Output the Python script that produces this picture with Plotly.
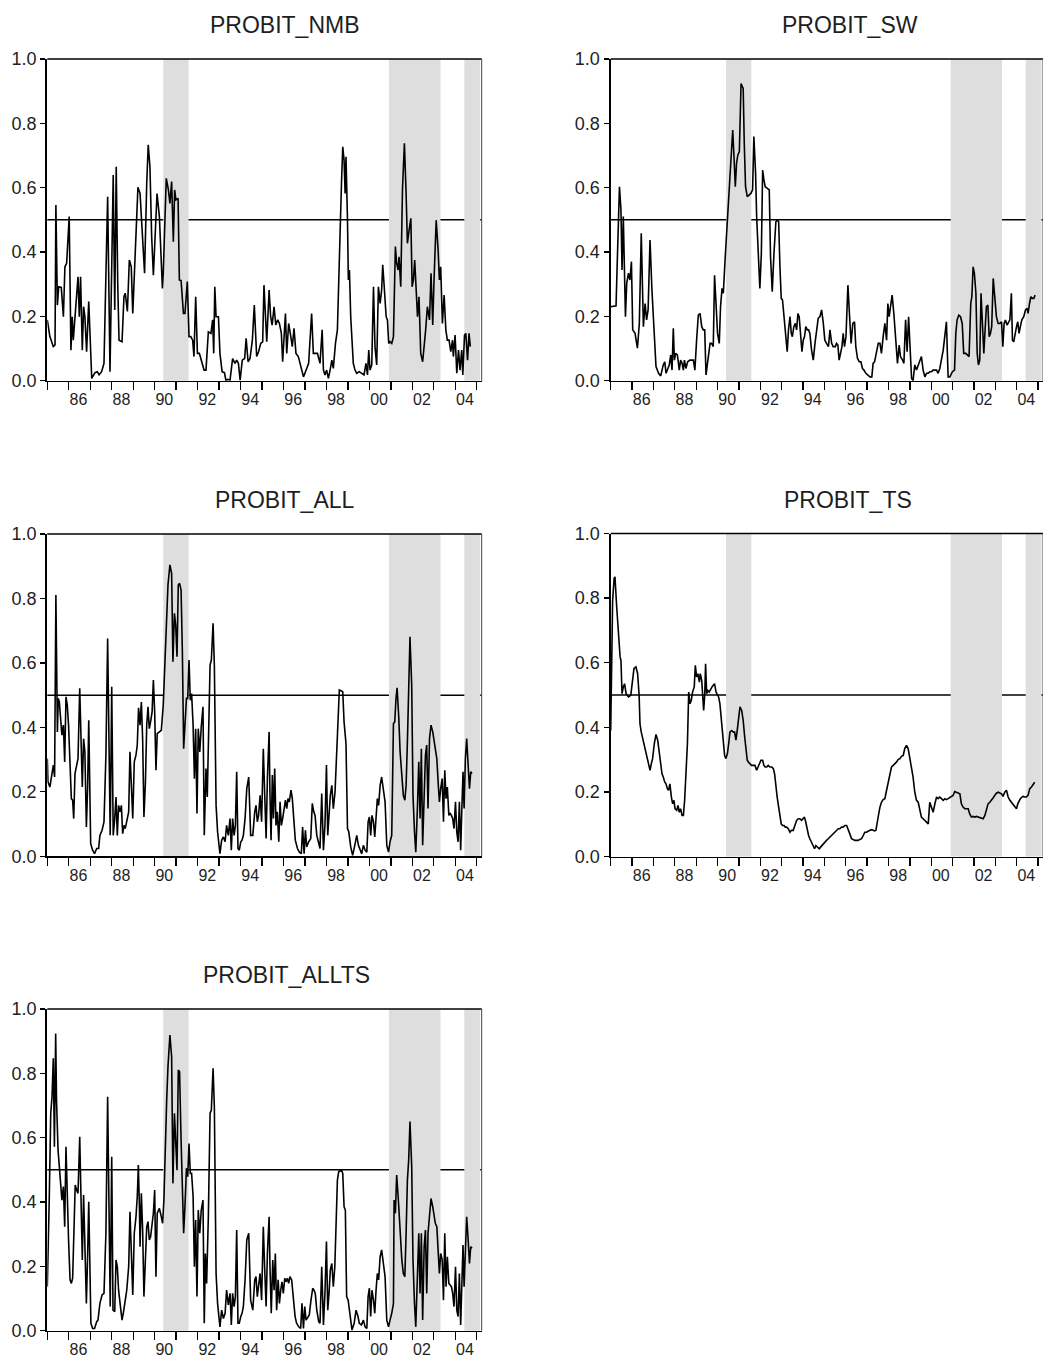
import plotly.graph_objects as go

# ---------------- data (decimal year, probability) ----------------
nmb_dates = [
    1985.00, 1985.12, 1985.28, 1985.36, 1985.40, 1985.47, 1985.53, 1985.65, 1985.75, 1985.82,
    1985.90, 1986.02, 1986.10, 1986.16, 1986.21, 1986.34, 1986.43, 1986.49, 1986.55, 1986.63,
    1986.69, 1986.75, 1986.83, 1986.93, 1986.99, 1987.07, 1987.22, 1987.33, 1987.41, 1987.53,
    1987.64, 1987.81, 1987.92, 1988.01, 1988.07, 1988.14, 1988.21, 1988.28, 1988.34, 1988.48,
    1988.57, 1988.63, 1988.73, 1988.82, 1988.91, 1988.98, 1989.13, 1989.22, 1989.32, 1989.43,
    1989.53, 1989.63, 1989.70, 1989.78, 1989.86, 1989.94, 1990.03, 1990.11, 1990.22, 1990.31,
    1990.36, 1990.40, 1990.50, 1990.54, 1990.64, 1990.71, 1990.79, 1990.87, 1990.93, 1990.99,
    1991.09, 1991.15, 1991.23, 1991.34, 1991.41, 1991.52, 1991.60, 1991.68, 1991.77, 1991.83,
    1991.91, 1991.99, 1992.08, 1992.19, 1992.30, 1992.39, 1992.50, 1992.62, 1992.70, 1992.75,
    1992.80, 1992.86, 1992.97, 1993.04, 1993.14, 1993.25, 1993.32, 1993.40, 1993.51, 1993.63,
    1993.74, 1993.82, 1993.90, 1993.98, 1994.08, 1994.19, 1994.26, 1994.35, 1994.44, 1994.55,
    1994.64, 1994.75, 1994.84, 1994.94, 1995.03, 1995.09,
    1995.22, 1995.33, 1995.40, 1995.47, 1995.56, 1995.64, 1995.73, 1995.81, 1995.90, 1995.96,
    1996.02, 1996.09, 1996.15, 1996.24, 1996.34, 1996.41, 1996.49, 1996.58, 1996.69, 1996.77,
    1996.85, 1996.93, 1997.00, 1997.08, 1997.17, 1997.24, 1997.31, 1997.39, 1997.47, 1997.58,
    1997.70, 1997.80, 1997.86, 1997.93, 1998.01, 1998.09, 1998.17, 1998.25, 1998.32, 1998.42,
    1998.51, 1998.60, 1998.70, 1998.76, 1998.82, 1998.87, 1998.91, 1998.98, 1999.02, 1999.07,
    1999.13, 1999.25, 1999.33, 1999.41, 1999.53, 1999.64, 1999.75, 1999.84, 1999.91, 1999.97,
    2000.03, 2000.11, 2000.19, 2000.26, 2000.34, 2000.42, 2000.50, 2000.57, 2000.62, 2000.68,
    2000.78, 2000.84, 2000.90, 2000.96, 2001.04, 2001.12, 2001.21, 2001.27, 2001.34, 2001.38,
    2001.46, 2001.54, 2001.63, 2001.71, 2001.77, 2001.85, 2001.93, 2001.99, 2002.05, 2002.11,
    2002.17, 2002.24, 2002.31, 2002.39, 2002.48, 2002.55, 2002.62, 2002.70, 2002.80, 2002.87,
    2002.95, 2003.01, 2003.11, 2003.20, 2003.26, 2003.32, 2003.40, 2003.48, 2003.56, 2003.63,
    2003.71, 2003.79, 2003.87, 2003.91, 2003.99, 2004.07, 2004.15, 2004.22, 2004.30, 2004.35,
    2004.43, 2004.49, 2004.57, 2004.64, 2004.70,
]
nmb_prob = [
    0.189, 0.137, 0.106, 0.111, 0.546, 0.235, 0.292, 0.290, 0.199, 0.354,
    0.365, 0.510, 0.095, 0.199, 0.126, 0.240, 0.323, 0.199, 0.323, 0.095,
    0.230, 0.199, 0.090, 0.246, 0.116, 0.007, 0.025, 0.028, 0.018, 0.028,
    0.054, 0.572, 0.028, 0.437, 0.639, 0.220, 0.665, 0.303, 0.126, 0.121,
    0.261, 0.272, 0.215, 0.375, 0.354, 0.209, 0.427, 0.601, 0.582, 0.437,
    0.334, 0.613, 0.733, 0.665, 0.448, 0.328, 0.489, 0.582, 0.510, 0.385,
    0.287, 0.334, 0.572, 0.629, 0.593, 0.551, 0.619, 0.432, 0.593, 0.562,
    0.567, 0.313, 0.311, 0.209, 0.209, 0.308, 0.137, 0.137, 0.126, 0.075,
    0.261, 0.085, 0.085, 0.054, 0.033, 0.033, 0.152, 0.147, 0.189, 0.085,
    0.292, 0.199, 0.199, 0.085, 0.028, 0.025, 0.000, 0.004, 0.002, 0.069,
    0.054, 0.064, 0.054, 0.002, 0.064, 0.069, 0.132, 0.059, 0.069, 0.126,
    0.235, 0.075, 0.090, 0.116, 0.121, 0.297,
    0.121, 0.282, 0.199, 0.173, 0.230, 0.173, 0.189, 0.178, 0.147, 0.059,
    0.126, 0.209, 0.085, 0.178, 0.137, 0.106, 0.163, 0.085, 0.075, 0.049,
    0.033, 0.012, 0.028, 0.038, 0.054, 0.126, 0.209, 0.085, 0.085, 0.085,
    0.054, 0.158, 0.033, 0.018, 0.033, 0.007, 0.033, 0.064, 0.038, 0.116,
    0.158, 0.406, 0.613, 0.727, 0.686, 0.582, 0.696, 0.499, 0.313, 0.344,
    0.199, 0.054, 0.033, 0.023, 0.028, 0.023, 0.018, 0.054, 0.018, 0.095,
    0.033, 0.049, 0.292, 0.106, 0.049, 0.292, 0.240, 0.282, 0.360, 0.303,
    0.199, 0.189, 0.116, 0.121, 0.116, 0.137, 0.417, 0.365, 0.344, 0.385,
    0.292, 0.593, 0.738, 0.582, 0.427, 0.468, 0.505, 0.292, 0.313, 0.375,
    0.303, 0.199, 0.261, 0.085, 0.059, 0.101, 0.158, 0.230, 0.189, 0.334,
    0.173, 0.313, 0.499, 0.406, 0.313, 0.354, 0.178, 0.266, 0.158, 0.126,
    0.126, 0.090, 0.126, 0.075, 0.142, 0.023, 0.095, 0.033, 0.095, 0.018,
    0.142, 0.147, 0.064, 0.147, 0.106,
]

sw_dates = [
    1985.00, 1985.25, 1985.31, 1985.41, 1985.48, 1985.53, 1985.59, 1985.64, 1985.69, 1985.75,
    1985.83, 1985.90, 1985.97, 1986.03, 1986.14, 1986.25, 1986.34, 1986.43, 1986.53, 1986.61,
    1986.68, 1986.75, 1986.84, 1986.93, 1987.03, 1987.12, 1987.24, 1987.34, 1987.46, 1987.53,
    1987.59, 1987.65, 1987.74, 1987.81, 1987.87, 1987.93, 1987.98, 1988.04, 1988.12, 1988.21,
    1988.27, 1988.34, 1988.40, 1988.45, 1988.52, 1988.60, 1988.71, 1988.87, 1988.94, 1989.02,
    1989.10, 1989.18, 1989.26, 1989.33, 1989.40, 1989.46, 1989.54, 1989.65, 1989.72, 1989.80,
    1989.86, 1989.93, 1990.00, 1990.08, 1990.14, 1990.21, 1990.27, 1990.36, 1990.46, 1990.58,
    1990.71, 1990.77, 1990.83, 1990.89, 1990.95, 1991.02, 1991.10, 1991.16, 1991.20, 1991.25,
    1991.31, 1991.39, 1991.47, 1991.56, 1991.64, 1991.70, 1991.78, 1991.83, 1991.92, 1991.98,
    1992.05, 1992.11, 1992.17, 1992.23, 1992.33, 1992.42, 1992.48, 1992.56, 1992.64, 1992.73,
    1992.79, 1992.86, 1992.92, 1992.98, 1993.04, 1993.12, 1993.20, 1993.26, 1993.32, 1993.39,
    1993.45, 1993.50, 1993.57, 1993.64, 1993.70, 1993.76, 1993.82, 1993.89, 1993.95, 1994.01,
    1994.07, 1994.13, 1994.20, 1994.26, 1994.32, 1994.40, 1994.48, 1994.56, 1994.63, 1994.71,
    1994.79, 1994.87, 1994.95, 1995.02, 1995.10, 1995.19, 1995.26, 1995.34, 1995.41, 1995.51,
    1995.57, 1995.63, 1995.69, 1995.76, 1995.82, 1995.88, 1995.94, 1996.01, 1996.10, 1996.18,
    1996.25, 1996.33, 1996.41, 1996.47, 1996.55, 1996.63, 1996.71, 1996.78, 1996.85, 1996.94,
    1997.03, 1997.13, 1997.22, 1997.28, 1997.35, 1997.44, 1997.52, 1997.60, 1997.67, 1997.75,
    1997.83, 1997.91, 1997.97, 1998.03, 1998.09, 1998.17, 1998.25, 1998.34, 1998.42, 1998.50,
    1998.56, 1998.66, 1998.72, 1998.80, 1998.87, 1998.94, 1999.00, 1999.08, 1999.15, 1999.23,
    1999.31, 1999.39, 1999.47, 1999.54, 1999.62, 1999.70, 1999.78, 1999.86, 1999.93, 2000.01,
    2000.09, 2000.17, 2000.25, 2000.32, 2000.40, 2000.56, 2000.64, 2000.71, 2000.79, 2000.87,
    2000.99, 2001.09, 2001.15, 2001.21, 2001.29, 2001.37, 2001.45, 2001.52, 2001.62, 2001.71,
    2001.77, 2001.85, 2001.90, 2001.96, 2002.02, 2002.09, 2002.15, 2002.21, 2002.27, 2002.33,
    2002.40, 2002.46, 2002.52, 2002.58, 2002.65, 2002.71, 2002.77, 2002.83, 2002.90, 2002.97,
    2003.05, 2003.13, 2003.21, 2003.29, 2003.35, 2003.41, 2003.47, 2003.55, 2003.61, 2003.68,
    2003.75, 2003.80, 2003.86, 2003.92, 2003.99, 2004.05, 2004.11, 2004.17, 2004.24, 2004.33,
    2004.41, 2004.49, 2004.53, 2004.60, 2004.66, 2004.73, 2004.80, 2004.86,
]
sw_prob = [
    0.230, 0.233, 0.375, 0.603, 0.531, 0.344, 0.510, 0.344, 0.199, 0.303,
    0.334, 0.313, 0.370, 0.158, 0.147, 0.101, 0.178, 0.458, 0.168, 0.240,
    0.189, 0.220, 0.437, 0.282, 0.147, 0.044, 0.023, 0.015, 0.049, 0.059,
    0.023, 0.033, 0.049, 0.080, 0.033, 0.163, 0.064, 0.085, 0.080, 0.033,
    0.064, 0.054, 0.033, 0.064, 0.038, 0.059, 0.064, 0.064, 0.033, 0.126,
    0.204, 0.209, 0.168, 0.158, 0.158, 0.018, 0.064, 0.116, 0.116, 0.106,
    0.328, 0.209, 0.147, 0.116, 0.230, 0.287, 0.272, 0.385, 0.499, 0.624,
    0.779, 0.696, 0.603, 0.676, 0.702, 0.712, 0.924, 0.914, 0.909, 0.738,
    0.603, 0.572, 0.577, 0.582, 0.593, 0.759, 0.645, 0.510, 0.375, 0.287,
    0.396, 0.655, 0.624, 0.603, 0.598, 0.593, 0.385, 0.277, 0.396, 0.494,
    0.499, 0.494, 0.354, 0.256, 0.251, 0.189, 0.147, 0.090, 0.158, 0.199,
    0.147, 0.137, 0.168, 0.178, 0.158, 0.209, 0.199, 0.126, 0.090, 0.126,
    0.137, 0.168, 0.158, 0.158, 0.147, 0.095, 0.064, 0.116, 0.147, 0.194,
    0.199, 0.220, 0.178, 0.126, 0.116, 0.106, 0.158, 0.116, 0.106, 0.106,
    0.116, 0.111, 0.064, 0.085, 0.106, 0.147, 0.106, 0.137, 0.297, 0.199,
    0.116, 0.178, 0.183, 0.106, 0.069, 0.059, 0.059, 0.038, 0.033, 0.023,
    0.018, 0.012, 0.012, 0.054, 0.059, 0.090, 0.116, 0.116, 0.085, 0.137,
    0.178, 0.126, 0.240, 0.199, 0.230, 0.266, 0.209, 0.121, 0.054, 0.111,
    0.075, 0.064, 0.054, 0.189, 0.090, 0.199, 0.090, 0.007, 0.000, 0.049,
    0.033, 0.049, 0.064, 0.075, 0.033, 0.012, 0.023, 0.023, 0.028, 0.028,
    0.033, 0.033, 0.033, 0.023, 0.038, 0.095, 0.137, 0.183, 0.012, 0.012,
    0.028, 0.033, 0.147, 0.189, 0.204, 0.199, 0.178, 0.085, 0.085, 0.080,
    0.075, 0.240, 0.261, 0.354, 0.334, 0.272, 0.085, 0.049, 0.064, 0.272,
    0.168, 0.085, 0.158, 0.230, 0.235, 0.137, 0.147, 0.168, 0.318, 0.272,
    0.199, 0.178, 0.178, 0.183, 0.106, 0.178, 0.189, 0.173, 0.183, 0.189,
    0.272, 0.126, 0.121, 0.147, 0.168, 0.183, 0.147, 0.168, 0.189, 0.199,
    0.220, 0.225, 0.209, 0.240, 0.261, 0.256, 0.256, 0.266,
]

all_dates = [
    1985.00, 1985.03, 1985.12, 1985.22, 1985.28, 1985.34, 1985.40, 1985.47, 1985.51, 1985.56,
    1985.62, 1985.68, 1985.75, 1985.81, 1985.87, 1985.93, 1985.99, 1986.06, 1986.12, 1986.18,
    1986.23, 1986.29, 1986.37, 1986.43, 1986.51, 1986.57, 1986.63, 1986.69, 1986.75, 1986.82,
    1986.88, 1986.93, 1986.99, 1987.02, 1987.11, 1987.20, 1987.30, 1987.39, 1987.45, 1987.55,
    1987.64, 1987.73, 1987.81, 1987.87, 1987.93, 1988.00, 1988.07, 1988.14, 1988.20, 1988.26,
    1988.32, 1988.39, 1988.45, 1988.51, 1988.57, 1988.63, 1988.70, 1988.79, 1988.85, 1988.91,
    1988.98, 1989.05, 1989.13, 1989.19, 1989.25, 1989.32, 1989.38, 1989.44, 1989.50, 1989.57,
    1989.63, 1989.69, 1989.75, 1989.81, 1989.88, 1989.94, 1990.00, 1990.06, 1990.12, 1990.22,
    1990.31, 1990.40, 1990.50, 1990.56, 1990.62, 1990.71, 1990.79, 1990.85, 1990.92, 1990.98,
    1991.04, 1991.10, 1991.16, 1991.23, 1991.29, 1991.35, 1991.41, 1991.48, 1991.54, 1991.60,
    1991.66, 1991.72, 1991.79, 1991.85, 1991.91, 1991.97, 1992.03, 1992.10, 1992.17, 1992.25,
    1992.31, 1992.39, 1992.45, 1992.52, 1992.58, 1992.64, 1992.72, 1992.78, 1992.86, 1992.93,
    1993.04, 1993.12, 1993.20, 1993.28, 1993.35, 1993.43, 1993.51, 1993.57, 1993.63, 1993.70,
    1993.76, 1993.82, 1993.88, 1993.94, 1994.01, 1994.07, 1994.13, 1994.21, 1994.29, 1994.38,
    1994.47, 1994.57, 1994.66, 1994.72, 1994.78, 1994.84, 1994.91, 1994.98, 1995.06, 1995.12,
    1995.19, 1995.25, 1995.33, 1995.37, 1995.42, 1995.48, 1995.53, 1995.59, 1995.65, 1995.71,
    1995.78, 1995.84, 1995.90, 1995.96, 1996.02, 1996.09, 1996.15, 1996.21, 1996.27, 1996.35,
    1996.41, 1996.49, 1996.55, 1996.65, 1996.74, 1996.83, 1996.89, 1996.96, 1997.02, 1997.08,
    1997.17, 1997.27, 1997.34, 1997.41, 1997.47, 1997.55, 1997.64, 1997.70, 1997.78, 1997.86,
    1997.93, 1998.00, 1998.06, 1998.12, 1998.18, 1998.25, 1998.32, 1998.40, 1998.48, 1998.54,
    1998.60, 1998.70, 1998.76, 1998.82, 1998.87, 1998.91, 1998.98, 1999.04, 1999.13, 1999.22,
    1999.32, 1999.41, 1999.49, 1999.57, 1999.64, 1999.72, 1999.80, 1999.88, 1999.94, 2000.00,
    2000.06, 2000.12, 2000.19, 2000.25, 2000.31, 2000.37, 2000.43, 2000.50, 2000.57, 2000.65,
    2000.73, 2000.81, 2000.89, 2000.96, 2001.04, 2001.12, 2001.18, 2001.24, 2001.29, 2001.37,
    2001.43, 2001.51, 2001.58, 2001.65, 2001.71, 2001.77, 2001.83, 2001.89, 2001.97, 2002.03,
    2002.10, 2002.16, 2002.24, 2002.30, 2002.36, 2002.42, 2002.48, 2002.55, 2002.61, 2002.67,
    2002.73, 2002.80, 2002.87, 2002.95, 2003.01, 2003.07, 2003.14, 2003.21, 2003.26, 2003.32,
    2003.39, 2003.45, 2003.51, 2003.57, 2003.63, 2003.70, 2003.76, 2003.82, 2003.88, 2003.94,
    2004.01, 2004.07, 2004.13, 2004.19, 2004.25, 2004.32, 2004.36, 2004.41, 2004.47, 2004.53,
    2004.60, 2004.66, 2004.72, 2004.78,
]
all_prob = [
    0.303, 0.231, 0.215, 0.257, 0.283, 0.246, 0.811, 0.386, 0.490, 0.479,
    0.417, 0.376, 0.407, 0.293, 0.495, 0.469, 0.407, 0.241, 0.179, 0.174,
    0.117, 0.257, 0.283, 0.303, 0.521, 0.345, 0.215, 0.365, 0.324, 0.091,
    0.220, 0.422, 0.096, 0.039, 0.019, 0.008, 0.024, 0.024, 0.065, 0.081,
    0.107, 0.314, 0.676, 0.303, 0.065, 0.526, 0.065, 0.117, 0.184, 0.065,
    0.158, 0.138, 0.158, 0.070, 0.096, 0.086, 0.107, 0.138, 0.324, 0.210,
    0.117, 0.293, 0.314, 0.345, 0.461, 0.407, 0.479, 0.365, 0.122, 0.231,
    0.407, 0.464, 0.396, 0.417, 0.448, 0.547, 0.448, 0.267, 0.381, 0.386,
    0.391, 0.469, 0.666, 0.790, 0.842, 0.904, 0.878, 0.604, 0.754, 0.717,
    0.619, 0.842, 0.847, 0.826, 0.635, 0.334, 0.407, 0.490, 0.490, 0.609,
    0.484, 0.505, 0.407, 0.241, 0.396, 0.133, 0.396, 0.324, 0.402, 0.464,
    0.065, 0.272, 0.184, 0.407, 0.593, 0.609, 0.723, 0.593, 0.158, 0.076,
    0.008, 0.050, 0.060, 0.045, 0.096, 0.065, 0.117, 0.019, 0.117, 0.065,
    0.096, 0.262, 0.024, 0.019, 0.045, 0.050, 0.065, 0.117, 0.210, 0.246,
    0.065, 0.065, 0.138, 0.158, 0.107, 0.127, 0.189, 0.107, 0.334, 0.200,
    0.055, 0.241, 0.386, 0.189, 0.050, 0.252, 0.117, 0.272, 0.096, 0.138,
    0.045, 0.169, 0.096, 0.117, 0.138, 0.174, 0.148, 0.179, 0.169, 0.205,
    0.179, 0.117, 0.050, 0.024, 0.013, 0.008, 0.091, 0.008, 0.081, 0.029,
    0.045, 0.055, 0.164, 0.138, 0.127, 0.065, 0.034, 0.024, 0.195, 0.019,
    0.096, 0.283, 0.065, 0.127, 0.189, 0.220, 0.148, 0.200, 0.324, 0.459,
    0.516, 0.513, 0.510, 0.417, 0.365, 0.350, 0.086, 0.076, 0.029, 0.003,
    0.034, 0.065, 0.034, 0.019, 0.008, 0.034, 0.019, 0.013, 0.107, 0.122,
    0.065, 0.127, 0.107, 0.060, 0.127, 0.179, 0.158, 0.220, 0.246, 0.210,
    0.169, 0.034, 0.013, 0.045, 0.065, 0.412, 0.417, 0.490, 0.523, 0.428,
    0.324, 0.252, 0.189, 0.174, 0.220, 0.355, 0.541, 0.681, 0.531, 0.189,
    0.076, 0.013, 0.158, 0.293, 0.117, 0.334, 0.034, 0.220, 0.314, 0.345,
    0.148, 0.365, 0.407, 0.386, 0.360, 0.345, 0.303, 0.220, 0.169, 0.210,
    0.241, 0.107, 0.267, 0.179, 0.215, 0.127, 0.133, 0.127, 0.117, 0.086,
    0.169, 0.076, 0.045, 0.169, 0.019, 0.179, 0.262, 0.148, 0.303, 0.365,
    0.283, 0.210, 0.262, 0.257,
]

ts_dates = [
    1985.00, 1985.05, 1985.09, 1985.16, 1985.20, 1985.28, 1985.36, 1985.44, 1985.48, 1985.53,
    1985.59, 1985.65, 1985.72, 1985.83, 1985.94, 1986.03, 1986.09, 1986.18, 1986.26, 1986.33,
    1986.37, 1986.43, 1986.51, 1986.61, 1986.68, 1986.78, 1986.84, 1986.90, 1986.96, 1987.04,
    1987.12, 1987.20, 1987.28, 1987.34, 1987.40, 1987.46, 1987.53, 1987.59, 1987.65, 1987.71,
    1987.77, 1987.84, 1987.90, 1987.96, 1988.01, 1988.09, 1988.15, 1988.21, 1988.27, 1988.34,
    1988.40, 1988.46, 1988.52, 1988.59, 1988.65, 1988.71, 1988.77, 1988.83, 1988.91, 1988.96,
    1989.02, 1989.08, 1989.15, 1989.19, 1989.26, 1989.30, 1989.35, 1989.40, 1989.44, 1989.49,
    1989.55, 1989.61, 1989.68, 1989.74, 1989.80, 1989.86, 1989.93, 1989.99, 1990.05, 1990.11,
    1990.19, 1990.27, 1990.33, 1990.39, 1990.46, 1990.52, 1990.58, 1990.66, 1990.74, 1990.80,
    1990.86, 1990.92, 1990.99, 1991.05, 1991.13, 1991.20, 1991.27, 1991.33, 1991.39, 1991.45,
    1991.52, 1991.59, 1991.67, 1991.75, 1991.83, 1991.89, 1991.95, 1992.03, 1992.11, 1992.17,
    1992.23, 1992.30, 1992.37, 1992.45, 1992.54, 1992.61, 1992.67, 1992.73, 1992.79, 1992.86,
    1992.92, 1992.98, 1993.04, 1993.11, 1993.17, 1993.23, 1993.31, 1993.39, 1993.46, 1993.54,
    1993.62, 1993.70, 1993.78, 1993.85, 1993.93, 1994.01, 1994.07, 1994.13, 1994.20, 1994.26,
    1994.32, 1994.40, 1994.48, 1994.54, 1994.60, 1994.66, 1994.76, 1994.82, 1994.88, 1994.95,
    1995.02, 1995.10, 1995.18, 1995.26, 1995.34, 1995.41, 1995.49, 1995.57, 1995.65, 1995.72,
    1995.80, 1995.88, 1995.96, 1996.04, 1996.11, 1996.19, 1996.27, 1996.35, 1996.43, 1996.50,
    1996.58, 1996.66, 1996.74, 1996.82, 1996.89, 1996.97, 1997.05, 1997.13, 1997.21, 1997.28,
    1997.36, 1997.41, 1997.47, 1997.53, 1997.60, 1997.67, 1997.75, 1997.83, 1997.91, 1997.99,
    1998.06, 1998.14, 1998.22, 1998.30, 1998.37, 1998.45, 1998.53, 1998.61, 1998.69, 1998.76,
    1998.84, 1998.92, 1999.00, 1999.08, 1999.15, 1999.23, 1999.31, 1999.39, 1999.47, 1999.54,
    1999.62, 1999.70, 1999.78, 1999.86, 1999.93, 2000.01, 2000.09, 2000.17, 2000.25, 2000.32,
    2000.40, 2000.48, 2000.56, 2000.64, 2000.71, 2000.79, 2000.87, 2000.95, 2001.02, 2001.10,
    2001.18, 2001.26, 2001.34, 2001.41, 2001.49, 2001.57, 2001.65, 2001.73, 2001.80, 2001.88,
    2001.96, 2002.04, 2002.12, 2002.19, 2002.27, 2002.35, 2002.43, 2002.51, 2002.58, 2002.66,
    2002.74, 2002.82, 2002.90, 2002.97, 2003.05, 2003.13, 2003.21, 2003.29, 2003.36, 2003.44,
    2003.52, 2003.60, 2003.68, 2003.75, 2003.83, 2003.91, 2003.99, 2004.05, 2004.11, 2004.17,
    2004.24, 2004.30, 2004.38, 2004.45, 2004.53, 2004.61, 2004.69, 2004.77, 2004.84,
]
ts_prob = [
    0.390, 0.649, 0.793, 0.861, 0.866, 0.773, 0.690, 0.618, 0.607, 0.504,
    0.525, 0.535, 0.504, 0.494, 0.499, 0.556, 0.582, 0.587, 0.566, 0.499,
    0.411, 0.385, 0.360, 0.329, 0.313, 0.277, 0.267, 0.287, 0.303, 0.349,
    0.378, 0.360, 0.318, 0.277, 0.256, 0.246, 0.230, 0.225, 0.210, 0.205,
    0.225, 0.184, 0.163, 0.174, 0.148, 0.143, 0.158, 0.137, 0.148, 0.127,
    0.127, 0.174, 0.267, 0.349, 0.509, 0.473, 0.483, 0.509, 0.525, 0.592,
    0.556, 0.566, 0.540, 0.566, 0.545, 0.514, 0.452, 0.499, 0.597, 0.504,
    0.514, 0.509, 0.520, 0.525, 0.530, 0.535, 0.509, 0.499, 0.494, 0.473,
    0.411, 0.349, 0.313, 0.303, 0.318, 0.349, 0.385, 0.390, 0.385, 0.385,
    0.360, 0.390, 0.442, 0.463, 0.452, 0.421, 0.370, 0.329, 0.298, 0.292,
    0.287, 0.282, 0.282, 0.282, 0.267, 0.277, 0.287, 0.298, 0.298, 0.282,
    0.277, 0.277, 0.282, 0.277, 0.277, 0.272, 0.256, 0.215, 0.184, 0.153,
    0.122, 0.101, 0.096, 0.096, 0.091, 0.091, 0.086, 0.075, 0.081, 0.081,
    0.096, 0.112, 0.117, 0.117, 0.112, 0.117, 0.122, 0.106, 0.081, 0.065,
    0.055, 0.044, 0.029, 0.024, 0.034, 0.029, 0.024, 0.029, 0.034, 0.039,
    0.044, 0.050, 0.055, 0.060, 0.065, 0.072, 0.075, 0.081, 0.086, 0.086,
    0.091, 0.091, 0.096, 0.096, 0.086, 0.070, 0.055, 0.052, 0.050, 0.050,
    0.050, 0.053, 0.055, 0.065, 0.075, 0.075, 0.079, 0.081, 0.083, 0.081,
    0.079, 0.081, 0.112, 0.127, 0.153, 0.168, 0.176, 0.179, 0.205, 0.230,
    0.256, 0.277, 0.282, 0.287, 0.292, 0.300, 0.303, 0.310, 0.313, 0.334,
    0.344, 0.334, 0.303, 0.272, 0.246, 0.199, 0.174, 0.168, 0.148, 0.122,
    0.117, 0.112, 0.106, 0.101, 0.168, 0.148, 0.137, 0.163, 0.184, 0.179,
    0.184, 0.179, 0.174, 0.179, 0.176, 0.179, 0.182, 0.184, 0.189, 0.201,
    0.199, 0.196, 0.194, 0.163, 0.153, 0.148, 0.148, 0.148, 0.132, 0.122,
    0.124, 0.122, 0.124, 0.122, 0.120, 0.117, 0.117, 0.127, 0.143, 0.163,
    0.168, 0.174, 0.182, 0.189, 0.196, 0.199, 0.196, 0.194, 0.186, 0.199,
    0.205, 0.184, 0.174, 0.168, 0.163, 0.158, 0.148, 0.163, 0.174, 0.179,
    0.184, 0.186, 0.184, 0.184, 0.189, 0.210, 0.215, 0.223, 0.230,
]

allts_dates = [
    1985.00, 1985.03, 1985.09, 1985.16, 1985.22, 1985.28, 1985.33, 1985.39, 1985.43, 1985.50,
    1985.56, 1985.62, 1985.68, 1985.75, 1985.81, 1985.87, 1985.93, 1985.99, 1986.06, 1986.12,
    1986.18, 1986.24, 1986.30, 1986.37, 1986.43, 1986.51, 1986.57, 1986.63, 1986.69, 1986.75,
    1986.82, 1986.88, 1986.93, 1986.99, 1987.03, 1987.11, 1987.20, 1987.30, 1987.36, 1987.45,
    1987.55, 1987.64, 1987.73, 1987.81, 1987.87, 1987.93, 1988.00, 1988.06, 1988.14, 1988.20,
    1988.26, 1988.32, 1988.39, 1988.48, 1988.54, 1988.63, 1988.70, 1988.79, 1988.85, 1988.91,
    1988.98, 1989.05, 1989.13, 1989.19, 1989.24, 1989.29, 1989.32, 1989.38, 1989.44, 1989.50,
    1989.57, 1989.63, 1989.69, 1989.75, 1989.81, 1989.88, 1989.94, 1990.00, 1990.06, 1990.12,
    1990.22, 1990.31, 1990.37, 1990.43, 1990.50, 1990.56, 1990.62, 1990.71, 1990.79, 1990.85,
    1990.92, 1990.98, 1991.04, 1991.10, 1991.16, 1991.23, 1991.29, 1991.35, 1991.41, 1991.48,
    1991.54, 1991.60, 1991.66, 1991.72, 1991.79, 1991.85, 1991.91, 1991.97, 1992.03, 1992.10,
    1992.17, 1992.25, 1992.31, 1992.36, 1992.42, 1992.50, 1992.58, 1992.64, 1992.72, 1992.78,
    1992.86, 1992.93, 1993.04, 1993.12, 1993.20, 1993.28, 1993.35, 1993.43, 1993.51, 1993.57,
    1993.63, 1993.70, 1993.76, 1993.82, 1993.88, 1993.94, 1994.01, 1994.07, 1994.13, 1994.21,
    1994.29, 1994.38, 1994.47, 1994.57, 1994.66, 1994.72, 1994.78, 1994.84, 1994.91, 1994.98,
    1995.06, 1995.12,
    1995.19, 1995.25, 1995.33, 1995.37, 1995.43, 1995.50, 1995.56, 1995.62, 1995.68, 1995.75,
    1995.81, 1995.87, 1995.93, 1995.99, 1996.06, 1996.12, 1996.18, 1996.24, 1996.30, 1996.38,
    1996.46, 1996.54, 1996.61, 1996.71, 1996.80, 1996.86, 1996.93, 1996.99, 1997.05, 1997.13,
    1997.20, 1997.28, 1997.36, 1997.42, 1997.48, 1997.55, 1997.64, 1997.70, 1997.78, 1997.86,
    1997.93, 1998.00, 1998.06, 1998.12, 1998.18, 1998.25, 1998.32, 1998.39, 1998.45, 1998.51,
    1998.57, 1998.63, 1998.70, 1998.76, 1998.82, 1998.88, 1998.94, 1999.01, 1999.10, 1999.19,
    1999.29, 1999.38, 1999.47, 1999.53, 1999.63, 1999.72, 1999.80, 1999.88, 1999.94, 2000.00,
    2000.06, 2000.12, 2000.19, 2000.25, 2000.31, 2000.37, 2000.43, 2000.50, 2000.57, 2000.65,
    2000.73, 2000.81, 2000.89, 2000.96, 2001.04, 2001.12, 2001.15, 2001.21, 2001.27, 2001.35,
    2001.43, 2001.51, 2001.58, 2001.65, 2001.71, 2001.77, 2001.83, 2001.89, 2001.97, 2002.03,
    2002.10, 2002.16, 2002.24, 2002.30, 2002.36, 2002.42, 2002.48, 2002.55, 2002.61, 2002.67,
    2002.73, 2002.80, 2002.87, 2002.95, 2003.01, 2003.07, 2003.14, 2003.21, 2003.26, 2003.32,
    2003.39, 2003.45, 2003.51, 2003.57, 2003.63, 2003.70, 2003.76, 2003.82, 2003.88, 2003.94,
    2004.01, 2004.07, 2004.13, 2004.19, 2004.25, 2004.32, 2004.36, 2004.41, 2004.47, 2004.53,
    2004.60, 2004.66, 2004.72, 2004.78,
]
allts_prob = [
    0.137, 0.282, 0.406, 0.676, 0.727, 0.847, 0.572, 0.924, 0.717, 0.562,
    0.510, 0.468, 0.406, 0.448, 0.323, 0.572, 0.406, 0.282, 0.158, 0.147,
    0.163, 0.354, 0.453, 0.437, 0.427, 0.603, 0.385, 0.220, 0.422, 0.282,
    0.085, 0.240, 0.401, 0.178, 0.023, 0.007, 0.007, 0.028, 0.033, 0.085,
    0.111, 0.116, 0.303, 0.727, 0.292, 0.075, 0.541, 0.064, 0.059, 0.220,
    0.199, 0.126, 0.085, 0.033, 0.054, 0.095, 0.126, 0.199, 0.370, 0.251,
    0.111, 0.303, 0.354, 0.417, 0.515, 0.385, 0.261, 0.427, 0.313, 0.106,
    0.220, 0.323, 0.339, 0.282, 0.292, 0.323, 0.365, 0.437, 0.168, 0.365,
    0.380, 0.354, 0.334, 0.406, 0.613, 0.717, 0.821, 0.919, 0.852, 0.458,
    0.676, 0.603, 0.499, 0.810, 0.805, 0.593, 0.479, 0.303, 0.385, 0.505,
    0.479, 0.582, 0.489, 0.489, 0.417, 0.199, 0.344, 0.106, 0.375, 0.303,
    0.375, 0.406, 0.023, 0.240, 0.147, 0.354, 0.676, 0.686, 0.816, 0.696,
    0.178, 0.085, 0.012, 0.064, 0.038, 0.054, 0.126, 0.080, 0.116, 0.018,
    0.116, 0.075, 0.106, 0.313, 0.023, 0.023, 0.044, 0.054, 0.075, 0.158,
    0.282, 0.303, 0.095, 0.064, 0.158, 0.168, 0.106, 0.137, 0.178, 0.095,
    0.323, 0.199,
    0.075, 0.240, 0.354, 0.199, 0.054, 0.220, 0.126, 0.240, 0.064, 0.158,
    0.085, 0.126, 0.152, 0.116, 0.163, 0.152, 0.163, 0.147, 0.168, 0.158,
    0.095, 0.044, 0.023, 0.012, 0.007, 0.085, 0.007, 0.075, 0.033, 0.044,
    0.049, 0.095, 0.132, 0.126, 0.116, 0.064, 0.028, 0.023, 0.199, 0.018,
    0.116, 0.277, 0.064, 0.116, 0.189, 0.209, 0.137, 0.199, 0.323, 0.468,
    0.494, 0.497, 0.499, 0.489, 0.385, 0.375, 0.106, 0.095, 0.044, 0.002,
    0.023, 0.064, 0.044, 0.023, 0.018, 0.033, 0.012, 0.007, 0.106, 0.132,
    0.044, 0.126, 0.095, 0.054, 0.126, 0.178, 0.158, 0.230, 0.251, 0.209,
    0.168, 0.033, 0.012, 0.033, 0.054, 0.085, 0.406, 0.365, 0.484, 0.406,
    0.303, 0.220, 0.178, 0.168, 0.303, 0.468, 0.531, 0.650, 0.510, 0.220,
    0.085, 0.012, 0.178, 0.303, 0.116, 0.303, 0.033, 0.261, 0.313, 0.116,
    0.303, 0.375, 0.411, 0.385, 0.365, 0.334, 0.323, 0.230, 0.178, 0.240,
    0.220, 0.095, 0.303, 0.137, 0.230, 0.147, 0.142, 0.137, 0.116, 0.075,
    0.199, 0.064, 0.044, 0.178, 0.018, 0.168, 0.266, 0.137, 0.282, 0.354,
    0.282, 0.209, 0.261, 0.256,
]

panel_titles = ["PROBIT_NMB", "PROBIT_SW", "PROBIT_ALL", "PROBIT_TS", "PROBIT_ALLTS"]
recession_start = [1990.40, 2000.91, 2004.42]
recession_end = [1991.58, 2003.31, 2005.16]
threshold = 0.5
year_ticks = list(range(1985, 2006))
label_years = list(range(1986, 2005, 2))
label_text = ["86", "88", "90", "92", "94", "96", "98", "00", "02", "04"]
y_ticks = [0.0, 0.2, 0.4, 0.6, 0.8, 1.0]

series = [
    (nmb_dates, nmb_prob),
    (sw_dates, sw_prob),
    (all_dates, all_prob),
    (ts_dates, ts_prob),
    (allts_dates, allts_prob),
]
for name, (xs, ys) in zip(panel_titles, series):
    assert len(xs) == len(ys), (name, len(xs), len(ys))

# ---------------- layout geometry (pixels) ----------------
W, H = 1043, 1359
boxes = [  # left, right, top, bottom
    (47.3, 481.7, 59.0, 380.7),
    (610.7, 1043.0, 59.0, 380.7),
    (47.3, 481.7, 534.0, 856.3),
    (610.7, 1043.0, 533.5, 856.5),
    (47.3, 481.7, 1009.0, 1330.7),
]
title_pos = [(285, 25), (850, 25), (285, 500), (848, 500), (286, 975)]
X_RANGE = [1985.0, 2005.23]

FONT = "Liberation Sans, Arial, Helvetica, sans-serif"
TXT = "#1e1e1e"

fig = go.Figure()
shapes = []
annotations = []
layout_axes = {}

for i, ((xs, ys), box, title, tpos) in enumerate(zip(series, boxes, panel_titles, title_pos), start=1):
    sfx = "" if i == 1 else str(i)
    xa, ya = "x" + sfx, "y" + sfx
    left, right, top, bottom = box

    fig.add_trace(go.Scatter(
        x=xs, y=ys, mode="lines", xaxis=xa, yaxis=ya,
        line=dict(color="black", width=1.6), showlegend=False, hoverinfo="skip",
    ))

    layout_axes["xaxis" + sfx] = dict(
        domain=[left / W, min(right / W, 1.0)], anchor=ya, range=X_RANGE,
        automargin=False,
        tickmode="array", tickvals=[y + 0.45 for y in label_years], ticktext=label_text,
        ticks="outside", ticklen=4, tickcolor="rgba(0,0,0,0)",
        minor=dict(tickmode="array", tickvals=year_ticks, ticks="outside",
                   ticklen=8, tickwidth=1.3, tickcolor="black", showgrid=False),
        showline=True, linecolor="black", linewidth=1.5,
        showgrid=False, zeroline=False,
        tickfont=dict(family=FONT, size=16, color=TXT),
    )
    layout_axes["yaxis" + sfx] = dict(
        domain=[1 - bottom / H, 1 - top / H], anchor=xa, range=[0, 1],
        automargin=False,
        tickmode="array", tickvals=y_ticks, tickformat=".1f",
        ticks="outside", ticklen=5, tickwidth=1.3, tickcolor="black",
        showline=True, linecolor="black", linewidth=2.2,
        showgrid=False, zeroline=False,
        tickfont=dict(family=FONT, size=18, color=TXT),
    )

    # threshold line (drawn first, then covered by the shaded bands)
    shapes.append(dict(type="line", xref=xa + " domain", yref=ya, x0=0, x1=1,
                       y0=threshold, y1=threshold, layer="below",
                       line=dict(color="black", width=1.5)))
    for s, e in zip(recession_start, recession_end):
        shapes.append(dict(type="rect", xref=xa, yref=ya + " domain", x0=s, x1=e,
                           y0=0, y1=1, layer="below", fillcolor="#dedede",
                           line=dict(width=0)))
    # box: top and right borders
    shapes.append(dict(type="line", xref=xa + " domain", yref=ya + " domain",
                       x0=0, x1=1, y0=1, y1=1, line=dict(color="black", width=1.5)))
    shapes.append(dict(type="line", xref=xa + " domain", yref=ya + " domain",
                       x0=1, x1=1, y0=0, y1=1, line=dict(color="#444", width=1)))

    annotations.append(dict(text=title, xref="paper", yref="paper",
                            x=tpos[0] / W, y=1 - tpos[1] / H,
                            xanchor="center", yanchor="middle", showarrow=False,
                            font=dict(family=FONT, size=23, color=TXT)))

fig.update_layout(
    template="none",
    width=W, height=H,
    margin=dict(l=0, r=0, t=0, b=0, pad=0),
    paper_bgcolor="white", plot_bgcolor="white",
    shapes=shapes, annotations=annotations,
    showlegend=False,
    **layout_axes,
)

fig.write_html(
    "out.html",
    config={"displayModeBar": False, "staticPlot": True},
    post_script="document.body.style.margin='0px';document.body.style.overflow='hidden';",
)
